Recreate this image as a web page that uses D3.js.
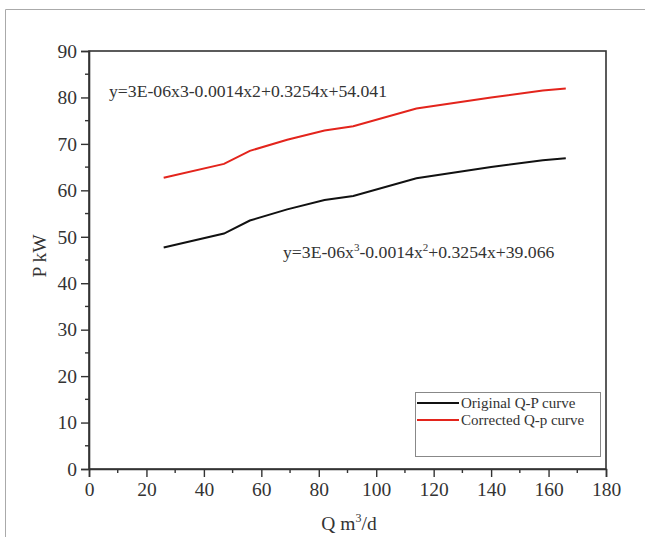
<!DOCTYPE html>
<html>
<head>
<meta charset="utf-8">
<script src="https://cdn.jsdelivr.net/npm/d3@7"></script>
<style>
  html, body { margin: 0; padding: 0; background: #fff; }
  svg { display: block; }
  text { font-family: "Liberation Serif", "Times New Roman", serif; fill: #333; }
</style>
</head>
<body>
<svg id="chart" width="645" height="537"></svg>
<script>
// Flow rate Q (m³/d) and pump power P (kW)
const flow = [26, 47, 56, 69, 82, 92, 114, 140, 158, 166];
const originalP = [47.7, 50.7, 53.5, 55.9, 57.9, 58.8, 62.6, 65.0, 66.5, 66.9];
const correctedP = [62.7, 65.7, 68.5, 70.9, 72.9, 73.8, 77.6, 80.0, 81.5, 81.9];
const xTicks = [0, 20, 40, 60, 80, 100, 120, 140, 160, 180];
const yTicks = [0, 10, 20, 30, 40, 50, 60, 70, 80, 90];
const seriesNames = ["Original Q-P curve", "Corrected Q-p curve"];

const svg = d3.select("#chart");
const ink = "#333";

// outer figure frame
svg.append("path")
  .attr("d", "M5.5,537 V9.5 H645")
  .attr("fill", "none").attr("stroke", "#aaa").attr("stroke-width", 1);

const plot = { left: 89, right: 606, top: 51, bottom: 469 };
const x = d3.scaleLinear().domain([0, 180]).range([plot.left, plot.right]);
const y = d3.scaleLinear().domain([0, 90]).range([plot.bottom, plot.top]);

// plot frame
svg.append("rect")
  .attr("x", plot.left).attr("y", plot.top)
  .attr("width", plot.right - plot.left).attr("height", plot.bottom - plot.top)
  .attr("fill", "none").attr("stroke", ink).attr("stroke-width", 1.6);

// minor ticks
const minorX = d3.range(10, 180, 20);
const minorY = d3.range(5, 90, 10);
svg.append("g").selectAll("line").data(minorX).join("line")
  .attr("x1", d => x(d)).attr("x2", d => x(d))
  .attr("y1", plot.bottom).attr("y2", plot.bottom + 4)
  .attr("stroke", ink).attr("stroke-width", 1.4);
svg.append("g").selectAll("line").data(minorY).join("line")
  .attr("y1", d => y(d)).attr("y2", d => y(d))
  .attr("x1", plot.left).attr("x2", plot.left - 4)
  .attr("stroke", ink).attr("stroke-width", 1.4);

// axes
const xAxis = svg.append("g")
  .attr("transform", `translate(0,${plot.bottom})`)
  .call(d3.axisBottom(x).tickValues(xTicks).tickSize(8).tickPadding(5));
const yAxis = svg.append("g")
  .attr("transform", `translate(${plot.left},0)`)
  .call(d3.axisLeft(y).tickValues(yTicks).tickSize(8).tickPadding(4));
[xAxis, yAxis].forEach(g => {
  g.select(".domain").attr("stroke", ink).attr("stroke-width", 1.6);
  g.selectAll(".tick line").attr("stroke", ink).attr("stroke-width", 1.4);
  g.selectAll(".tick text")
    .style("font-family", "'Liberation Serif', serif")
    .style("font-size", "19.5px").attr("fill", ink);
});

// axis titles
svg.append("text")
  .attr("transform", "translate(46,256) rotate(-90)")
  .attr("text-anchor", "middle").style("font-size", "19.5px")
  .text("P kW");
const xt = svg.append("text")
  .attr("x", 349).attr("y", 530).attr("text-anchor", "middle")
  .style("font-size", "19.5px");
xt.append("tspan").text("Q m");
xt.append("tspan").attr("dy", -8).style("font-size", "12px").text("3");
xt.append("tspan").attr("dy", 8).text("/d");

// curves
const line = d3.line().x(d => x(d[0])).y(d => y(d[1]));
const series = [
  { values: originalP, color: "#111" },
  { values: correctedP, color: "#e3241c" }
];
series.forEach(s => {
  svg.append("path")
    .datum(flow.map((q, i) => [q, s.values[i]]))
    .attr("d", line)
    .attr("fill", "none").attr("stroke", s.color).attr("stroke-width", 2);
});

// fitted equations
svg.append("text")
  .attr("x", 109).attr("y", 97).style("font-size", "17.7px")
  .text("y=3E-06x3-0.0014x2+0.3254x+54.041");
const eq = svg.append("text")
  .attr("x", 283).attr("y", 258).style("font-size", "17.7px");
eq.append("tspan").text("y=3E-06x");
eq.append("tspan").attr("dy", -7).style("font-size", "11px").text("3");
eq.append("tspan").attr("dy", 7).text("-0.0014x");
eq.append("tspan").attr("dy", -7).style("font-size", "11px").text("2");
eq.append("tspan").attr("dy", 7).text("+0.3254x+39.066");

// legend
const lg = svg.append("g");
lg.append("rect")
  .attr("x", 415.5).attr("y", 392.5).attr("width", 185).attr("height", 64)
  .attr("fill", "#fff").attr("stroke", "#888").attr("stroke-width", 1);
series.forEach((s, i) => {
  const ly = 403 + i * 17;
  lg.append("line")
    .attr("x1", 417).attr("x2", 459).attr("y1", ly).attr("y2", ly)
    .attr("stroke", s.color).attr("stroke-width", 2);
  lg.append("text")
    .attr("x", 461).attr("y", ly + 5).style("font-size", "15px")
    .text(seriesNames[i]);
});
</script>
</body>
</html>
